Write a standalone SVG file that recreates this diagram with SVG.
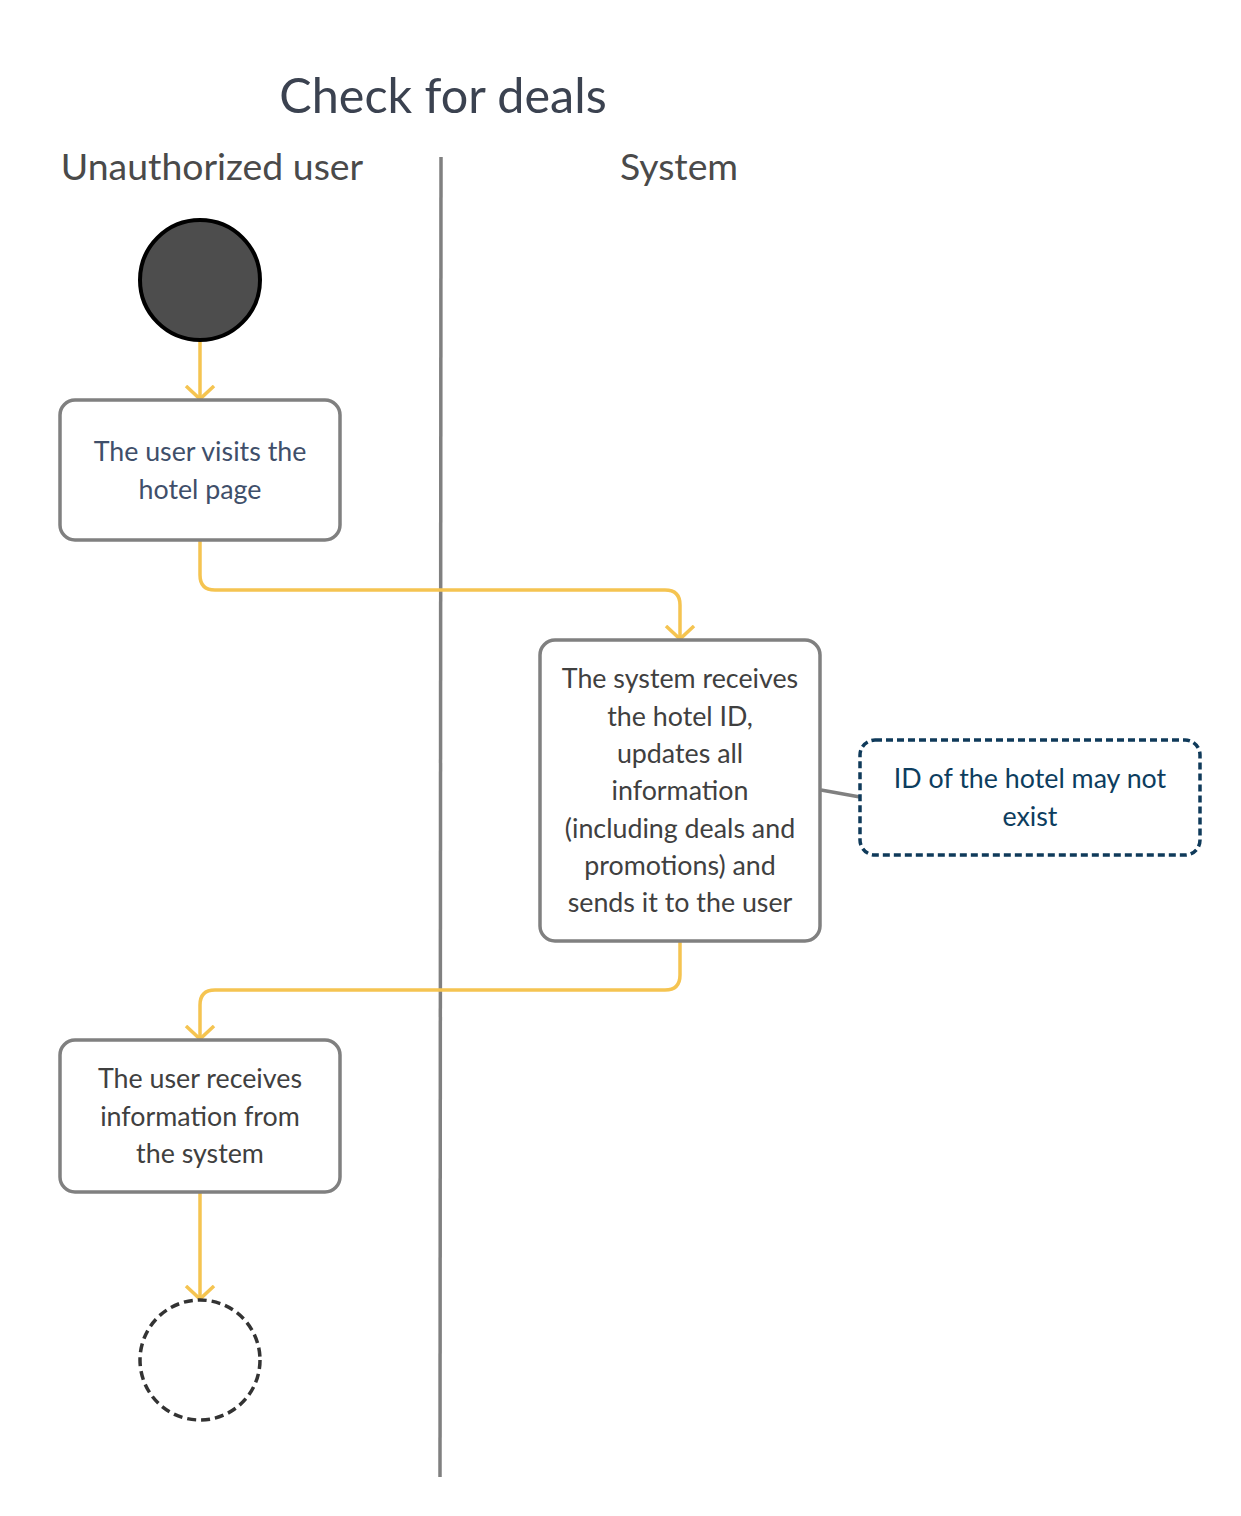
<svg xmlns="http://www.w3.org/2000/svg" width="1241" height="1516" viewBox="0 0 1241 1516">
<style>
text{font-family:Lato,"Liberation Sans",sans-serif;text-anchor:middle}
.box{fill:#fff;stroke:#808080;stroke-width:3.5}
.flow{fill:none;stroke:#f5c451;stroke-width:3.5;marker-end:url(#arr)}
.t{font-size:26.8px}
</style>
<defs>
<marker id="arr" markerUnits="userSpaceOnUse" markerWidth="24" markerHeight="32" refX="14" refY="16" orient="auto" viewBox="0 0 24 32">
<path d="M1,2 L14,16 L1,30" fill="none" stroke="#f5c451" stroke-width="3.5"/>
</marker>
</defs>
<rect width="1241" height="1516" fill="#fff"/>
<g id="title"><text x="443" y="113" font-size="48.5" fill="#3b4250">Check for deals</text></g>
<g id="lanes">
<text x="212" y="180" font-size="37.4" fill="#4a4a4a">Unauthorized user</text>
<text x="679" y="180" font-size="37.4" fill="#4a4a4a">System</text>
<line x1="441" y1="157" x2="440" y2="1477" stroke="#808080" stroke-width="3.5"/>
</g>
<g id="connectors">
<line class="flow" x1="200" y1="340" x2="200" y2="399"/>
<path class="flow" d="M200,540 V575 Q200,590 215,590 H665 Q680,590 680,605 V639"/>
<path class="flow" d="M680,941 V975 Q680,990 665,990 H215 Q200,990 200,1005 V1039"/>
<line class="flow" x1="200" y1="1192" x2="200" y2="1299"/>
<line x1="821" y1="790" x2="860" y2="797" stroke="#808080" stroke-width="3.5"/>
</g>
<g id="start"><circle cx="200" cy="280" r="60" fill="#4d4d4d" stroke="#000" stroke-width="4"/></g>
<g id="visit">
<rect class="box" x="60" y="400" width="280" height="140" rx="15"/>
<text class="t" fill="#3f4f6a"><tspan x="200" y="461">The user visits the</tspan><tspan x="200" y="499">hotel page</tspan></text>
</g>
<g id="system">
<rect class="box" x="540" y="640" width="280" height="301" rx="15"/>
<text class="t" fill="#404040"><tspan x="680" y="688">The system receives</tspan><tspan x="680" y="726">the hotel ID,</tspan><tspan x="680" y="763">updates all</tspan><tspan x="680" y="800">information</tspan><tspan x="680" y="838">(including deals and</tspan><tspan x="680" y="875">promotions) and</tspan><tspan x="680" y="912">sends it to the user</tspan></text>
</g>
<g id="note">
<rect x="860" y="740" width="340" height="115" rx="15" fill="#fff" stroke="#0f3a5a" stroke-width="3.5" stroke-dasharray="7,4"/>
<text class="t" fill="#0d3d5e"><tspan x="1030" y="788">ID of the hotel may not</tspan><tspan x="1030" y="826">exist</tspan></text>
</g>
<g id="receive">
<rect class="box" x="60" y="1040" width="280" height="152" rx="15"/>
<text class="t" fill="#404040"><tspan x="200" y="1088">The user receives</tspan><tspan x="200" y="1126">information from</tspan><tspan x="200" y="1163">the system</tspan></text>
</g>
<g id="end"><circle cx="200" cy="1360" r="60" fill="#fff" stroke="#333" stroke-width="3.5" stroke-dasharray="9,5"/></g>
</svg>
